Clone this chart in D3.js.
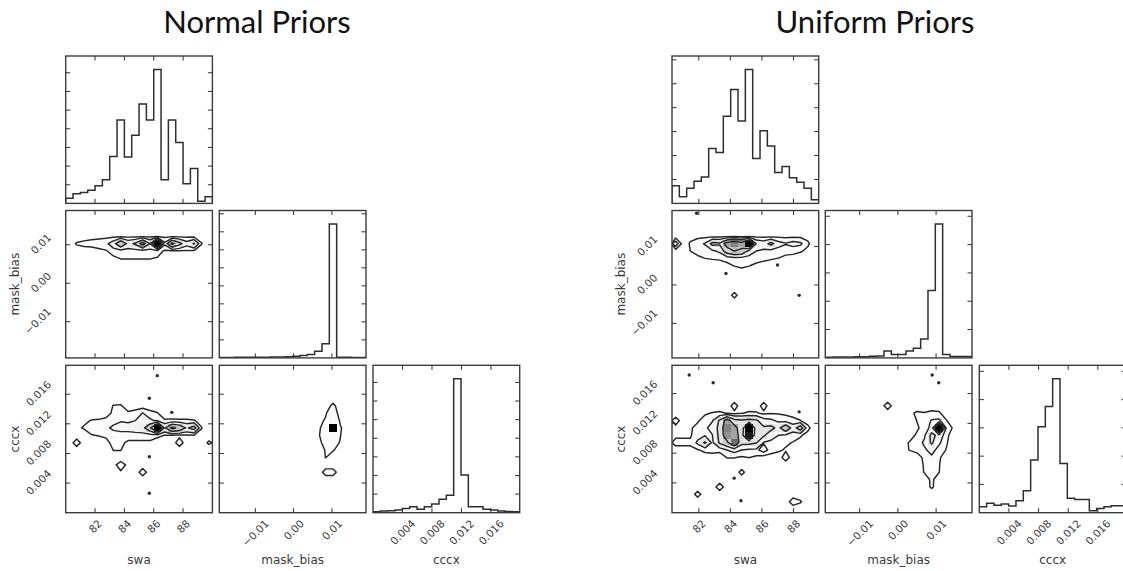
<!DOCTYPE html>
<html>
<head>
<meta charset="utf-8">
<script src="https://cdn.jsdelivr.net/npm/d3@7"></script>
<style>
  html, body { margin: 0; padding: 0; background: #fff; }
  svg { display: block; }
</style>
</head>
<body>
<svg id="chart" width="1123" height="571"></svg>
<script>
// ---------------- data ----------------
const paramNames = ["swa", "mask_bias", "cccx"];
const titles = ["Normal Priors", "Uniform Priors"];

// axis extents [min, max] per parameter
const extentNormal = [[80, 90], [-0.0194, 0.0189], [0, 0.0199]];
const extentUniform = [[80.3, 89.6], [-0.019, 0.0194], [0, 0.0198]];

const swaTicks = [82, 84, 86, 88];
const swaTickLabels = ["82", "84", "86", "88"];
const maskTicks = [-0.01, 0, 0.01];
const maskTickLabels = ["\u22120.01", "0.00", "0.01"];
const cccxTicks = [0.004, 0.008, 0.012, 0.016];
const cccxTickLabels = ["0.004", "0.008", "0.012", "0.016"];

// 1-D marginal histograms (20 bins across each extent)
const histSwaNormal = [27, 52, 59, 70, 94, 127, 251, 447, 248, 365, 533, 447, 718, 127, 447, 326, 105, 187, 12, 36];
const histMaskNormal = [2, 2, 3, 3, 3, 4, 4, 5, 5, 6, 9, 13, 19, 37, 78, 744, 4, 3, 2, 2];
const histCccxNormal = [5, 9, 11, 14, 22, 32, 18, 32, 47, 72, 94, 720, 202, 32, 32, 18, 14, 9, 7, 5];
const histSwaUniform = [74, 28, 63, 93, 110, 229, 213, 364, 476, 344, 560, 188, 304, 240, 129, 154, 107, 88, 63, 15];
const histMaskUniform = [2, 3, 3, 3, 4, 4, 6, 7, 24, 12, 12, 24, 34, 67, 238, 473, 12, 5, 5, 5];
const histCccxUniform = [21, 33, 26, 31, 24, 42, 78, 186, 304, 376, 474, 174, 51, 47, 47, 7, 15, 21, 25, 25];
const histTickStep = 100;

// 2-D densities on a 20x20 grid: [row counted from the bottom, first column, values...]
const densNormalSwaMask = [
  [16, 3, [0.3, 0.4, 0.5, 0.5, 0.5, 0.5, 0.5, 0.5, 0.5, 0.5, 0.5, 0.5, 0.5, 0.5, 0.4, 0.3]],
  [15, 1, [1.2, 1.6, 1.8, 2, 2.4, 4.5, 9.5, 5, 6.5, 12, 5.8, 20, 3.5, 11, 7, 4, 6.3, 1.1]],
  [14, 4, [0.5, 0.8, 2, 2, 2, 2, 2, 2, 2, 0.7, 0.7, 0.7, 0.7, 0.7, 0.3]],
  [13, 6, [0.5, 1.1, 1.1, 1.1, 1.1, 1.1, 0.8]]
];
const densNormalSwaCccx = [
  [14, 6, [1.1, 1.2]],
  [13, 6, [1.5, 1.6, 1.3, 1.8, 3.1, 1.6, 1.1]],
  [12, 2, [0.6, 1.1, 1.2, 1.6, 2.2, 2.8, 2.6, 3, 3.5, 3.5, 2.5, 1.2, 1.3, 1.2, 1.2, 1.1, 0.5]],
  [11, 1, [0.6, 1.2, 1.8, 2, 2.5, 3.5, 4, 4, 4.5, 5, 9, 20, 5.5, 11, 9, 5.5, 7.5, 1.1]],
  [10, 3, [0.9, 1.1, 1.3, 2, 2, 2, 2, 2, 2, 1.5, 0.9, 0.8, 0.5, 0.8, 0.9, 0.3]],
  [9, 1, [2, 0, 0, 0, 0.5, 1.5, 1.5, 0.6, 0.6, 0.6, 0.6, 0, 0, 0, 2, 0, 0, 0, 1.3]],
  [8, 6, [1.05, 1.05]],
  [6, 6, [0.5, 1.8, 0.6]],
  [5, 7, [0.8, 0, 0, 2]]
];
const densNormalMaskCccx = [
  [14, 15, [1.5]],
  [13, 14, [0.8, 2.5]],
  [12, 13, [0.5, 1.2, 3, 0.7]],
  [11, 13, [0.8, 1.5, 20, 1.2]],
  [10, 13, [0.9, 1.5, 2, 1.05]],
  [9, 13, [0.7, 1.4, 1.6, 0.9]],
  [8, 13, [0.3, 1.1, 1.2]],
  [7, 14, [1.05]],
  [5, 14, [1.8, 1.8]]
];
const densUniformSwaMask = [
  [16, 2, [0.5, 0.5, 0.5, 0.5, 0.5, 0.5, 0.5, 0.5, 0.8, 0.5, 0.5, 0.5, 0.5, 0.5, 0.5, 0.5, 0.5]],
  [15, 0, [4.5, 0, 1.2, 2.2, 3.2, 7, 6.5, 12, 14, 12, 20, 5.5, 4.5, 7, 4, 3.2, 4, 3.5, 1.3, 0]],
  [14, 2, [1, 1.3, 2, 2.5, 3.5, 8, 10, 9, 5, 3, 2.5, 2.2, 2, 1.5, 1.5, 1.2, 0.6]],
  [13, 2, [0.5, 0.8, 1, 1.15, 1.3, 1.5, 2, 2, 1.8, 1.5, 1.3, 1.2, 0.95, 0.6, 0.4]],
  [12, 7, [0.6, 1.05, 1.3, 1.05, 0.7, 0.5]],
  [11, 9, [0.3]],
  [8, 8, [1.6]]
];
const densUniformSwaCccx = [
  [14, 8, [1.8, 0, 0, 0, 1.8]],
  [13, 3, [0.5, 0.8, 1.1, 1.3, 0.95, 0.6, 0.9, 1.3, 1.2, 0.6, 0.9, 0.8, 0.6, 0.4]],
  [12, 0, [1.8, 0.2, 0.3, 0.8, 1.6, 2.8, 6.5, 12, 7, 6.5, 7, 6.5, 4, 3.5, 2.5, 2, 1.5, 1.05, 0.3]],
  [11, 0, [0.5, 0.6, 0.8, 1.5, 2.5, 4, 7, 14, 12, 7, 20, 7, 6.5, 7, 5, 9, 4.5, 8, 1.5]],
  [10, 0, [0.8, 0.8, 0.8, 2, 2.8, 2.9, 7, 13, 12, 8, 19, 6.5, 6.5, 4, 3, 2.5, 1.8, 1.2, 0.4]],
  [9, 0, [1.3, 1.3, 1.3, 3.5, 6.5, 2.5, 6.5, 9, 15, 7, 7, 6.2, 2.8, 2.5, 1.8, 1.3, 0.9, 0.5]],
  [8, 0, [0.6, 0.6, 0.6, 0.8, 1.5, 1.8, 1.5, 3, 4, 3, 2.5, 2.4, 4.2, 2, 1.3, 0.8, 0.6]],
  [7, 7, [1.1, 1.1, 0.7, 1.05, 0.6, 0, 0, 0, 2]],
  [5, 9, [1.6]],
  [3, 6, [2]],
  [2, 3, [1.7]],
  [1, 16, [2, 1.2]]
];
const densUniformMaskCccx = [
  [14, 8, [2]],
  [13, 11, [0.6, 1.3, 1.1, 1.5, 1.3]],
  [12, 12, [1.05, 1.8, 3.2, 3.5, 1.1]],
  [11, 12, [0.8, 1.5, 4, 20, 2.5, 0.6]],
  [10, 11, [0.5, 1.2, 2.5, 7, 5, 1.5]],
  [9, 10, [0.6, 1.1, 1.6, 3.5, 6.5, 3.5, 1.2]],
  [8, 10, [0.6, 1.05, 1.6, 2.5, 4, 2, 0.9]],
  [7, 13, [1.5, 2.5, 1.3]],
  [6, 13, [1.2, 1.8, 1.1]],
  [5, 13, [1.1, 1.6, 1.05]],
  [4, 14, [1.4]],
  [3, 14, [1.3]]
];

// contour levels of each density
const levelsStd = [1, 3, 6, 10];
const levelsNormalMaskCccx = [1];

// isolated samples outside the contours: [x, y]
const outliersNormalSwaCccx = [[86.24, 0.0185], [85.70, 0.01545], [87.23, 0.01355], [85.70, 0.00756], [85.70, 0.00262]];
const outliersUniformSwaMask = [[83.72, 0.0030], [86.99, 0.0052], [88.36, -0.0027], [81.86, 0.0187]];
const outliersUniformSwaCccx = [[81.39, 0.01849], [82.91, 0.01746], [88.36, 0.01355], [84.24, 0.00464], [84.67, 0.00162]];
const outliersUniformMaskCccx = [[0.00898, 0.01849], [0.0107, 0.01746]];

// ---------------- layout ----------------
const NB = 20;
const W = 146.7, H = 147.4;
const TICK_LEN = 4.5;
const LINE = "#2e2e2e";
const TXT = "#3a3a3a";
const TICK_FS = 10.5;
const paramTicks = [swaTicks, maskTicks, cccxTicks];
const paramTickLabels = [swaTickLabels, maskTickLabels, cccxTickLabels];

const plots = [
  {
    title: titles[0], titleX: 257,
    left: [65.7, 219.3, 373], top: [56, 210.5, 365.3],
    extents: extentNormal,
    hists: [histSwaNormal, histMaskNormal, histCccxNormal],
    dens: {
      "1,0": [densNormalSwaMask, levelsStd, []],
      "2,0": [densNormalSwaCccx, levelsStd, outliersNormalSwaCccx],
      "2,1": [densNormalMaskCccx, levelsNormalMaskCccx, []]
    }
  },
  {
    title: titles[1], titleX: 875,
    left: [672, 825.3, 979.3], top: [56, 210.5, 365.3],
    extents: extentUniform,
    hists: [histSwaUniform, histMaskUniform, histCccxUniform],
    dens: {
      "1,0": [densUniformSwaMask, levelsStd, outliersUniformSwaMask],
      "2,0": [densUniformSwaCccx, levelsStd, outliersUniformSwaCccx],
      "2,1": [densUniformMaskCccx, levelsStd, outliersUniformMaskCccx]
    }
  }
];

const svg = d3.select("#chart");
const defs = svg.append("defs");
let clipId = 0;

function buildGrid(rows) {
  const vals = new Array(NB * NB).fill(0);
  rows.forEach(([j, c0, v]) => v.forEach((x, k) => { vals[(NB - 1 - j) * NB + c0 + k] = x; }));
  return vals;
}

function panelClip(x0, y0) {
  const id = "clip" + (clipId++);
  defs.append("clipPath").attr("id", id)
    .append("rect").attr("x", x0).attr("y", y0).attr("width", W).attr("height", H);
  return "url(#" + id + ")";
}

function drawTicks(g, x0, y0, xTicks, xs, yTicks, ys) {
  const t = g.append("g").attr("stroke", LINE).attr("stroke-width", 1);
  xTicks.forEach(v => {
    const x = xs(v);
    t.append("line").attr("x1", x).attr("x2", x).attr("y1", y0).attr("y2", y0 + TICK_LEN);
    t.append("line").attr("x1", x).attr("x2", x).attr("y1", y0 + H).attr("y2", y0 + H - TICK_LEN);
  });
  yTicks.forEach(v => {
    const y = ys(v);
    t.append("line").attr("x1", x0).attr("x2", x0 + TICK_LEN).attr("y1", y).attr("y2", y);
    t.append("line").attr("x1", x0 + W).attr("x2", x0 + W - TICK_LEN).attr("y1", y).attr("y2", y);
  });
  g.append("rect").attr("x", x0).attr("y", y0).attr("width", W).attr("height", H)
    .attr("fill", "none").attr("stroke", "#3c3c3c").attr("stroke-width", 1.4);
}

function drawHist(g, x0, y0, ext, counts, xTicks) {
  const xs = d3.scaleLinear(ext, [x0, x0 + W]);
  const top = 1.1 * d3.max(counts);
  const ys = d3.scaleLinear([0, top], [y0 + H, y0]);
  const edges = d3.range(NB + 1).map(i => ext[0] + i * (ext[1] - ext[0]) / NB);
  const pts = [[edges[0], 0]];
  counts.forEach((c, i) => { pts.push([edges[i], c], [edges[i + 1], c]); });
  pts.push([edges[NB], 0]);
  g.append("path")
    .attr("clip-path", panelClip(x0, y0))
    .attr("d", d3.line().x(d => xs(d[0])).y(d => ys(d[1]))(pts))
    .attr("fill", "none").attr("stroke", LINE).attr("stroke-width", 1.5);
  drawTicks(g, x0, y0, xTicks, xs, d3.range(histTickStep, top, histTickStep), ys);
}

function drawDensity(g, x0, y0, xd, yd, rows, levels, outliers, xTicks, yTicks) {
  const xs = d3.scaleLinear(xd, [x0, x0 + W]);
  const ys = d3.scaleLinear(yd, [y0 + H, y0]);
  const vals = buildGrid(rows);
  const vmax = d3.max(vals);
  const dx = (xd[1] - xd[0]) / NB, dy = (yd[1] - yd[0]) / NB;
  const inner = g.append("g").attr("clip-path", panelClip(x0, y0));

  // shaded cells, darker where the density is higher
  const cells = [];
  vals.forEach((v, k) => { if (v > 0) cells.push({ i: k % NB, r: Math.floor(k / NB), v }); });
  inner.selectAll("rect.cell").data(cells).join("rect")
    .attr("class", "cell")
    .attr("x", d => xs(xd[0] + d.i * dx))
    .attr("y", d => ys(yd[1] - d.r * dy))
    .attr("width", d => xs(xd[0] + (d.i + 1) * dx) - xs(xd[0] + d.i * dx))
    .attr("height", d => ys(yd[1] - (d.r + 1) * dy) - ys(yd[1] - d.r * dy))
    .attr("shape-rendering", "crispEdges")
    .attr("fill", d => {
      const s = Math.round(255 * (1 - Math.pow(d.v / vmax, 2)));
      return d3.rgb(s, s, s).toString();
    });

  // contour lines
  const proj = d3.geoTransform({
    point(px, py) { this.stream.point(xs(xd[0] + px * dx), ys(yd[1] - py * dy)); }
  });
  const path = d3.geoPath(proj);
  const cs = d3.contours().size([NB, NB]).thresholds(levels)(vals);
  inner.selectAll("path.contour").data(cs).join("path")
    .attr("class", "contour")
    .attr("d", path)
    .attr("fill", "none").attr("stroke", "#262626").attr("stroke-width", 1.45)
    .attr("stroke-linejoin", "round");

  // isolated samples
  inner.selectAll("circle.pt").data(outliers).join("circle")
    .attr("class", "pt")
    .attr("cx", d => xs(d[0])).attr("cy", d => ys(d[1])).attr("r", 1.7)
    .attr("fill", "#2a2a2a");

  drawTicks(g, x0, y0, xTicks, xs, yTicks, ys);
}

function rotatedXLabel(g, text, x, yTop) {
  const t = g.append("text").text(text)
    .attr("font-family", "DejaVu Sans").attr("font-size", TICK_FS)
    .attr("fill", TXT).attr("text-anchor", "middle").attr("dominant-baseline", "central");
  const w = t.node().getComputedTextLength();
  const half = (w + TICK_FS * 0.72) * Math.SQRT1_2 / 2;
  t.attr("transform", `translate(${x},${yTop + half}) rotate(-45)`);
}

function rotatedYLabel(g, text, xRight, y) {
  const t = g.append("text").text(text)
    .attr("font-family", "DejaVu Sans").attr("font-size", TICK_FS)
    .attr("fill", TXT).attr("text-anchor", "middle").attr("dominant-baseline", "central");
  const w = t.node().getComputedTextLength();
  const half = (w + TICK_FS * 0.72) * Math.SQRT1_2 / 2;
  t.attr("transform", `translate(${xRight - half},${y}) rotate(-45)`);
}

plots.forEach(p => {
  const g = svg.append("g");

  g.append("text").text(p.title)
    .attr("x", p.titleX).attr("y", 33)
    .attr("text-anchor", "middle")
    .attr("font-family", "Lato").attr("font-size", 31)
    .attr("fill", "#111");

  for (let r = 0; r < 3; r++) {
    for (let c = 0; c <= r; c++) {
      const x0 = p.left[c], y0 = p.top[r];
      if (r === c) {
        drawHist(g, x0, y0, p.extents[c], p.hists[c], paramTicks[c]);
      } else {
        const [rows, levels, outliers] = p.dens[r + "," + c];
        drawDensity(g, x0, y0, p.extents[c], p.extents[r], rows, levels, outliers,
          paramTicks[c], paramTicks[r]);
      }
    }
  }

  // tick labels along the bottom row
  for (let c = 0; c < 3; c++) {
    const xs = d3.scaleLinear(p.extents[c], [p.left[c], p.left[c] + W]);
    const bottom = p.top[2] + H;
    paramTicks[c].forEach((v, i) => rotatedXLabel(g, paramTickLabels[c][i], xs(v), bottom + 6));
    g.append("text").text(paramNames[c])
      .attr("x", p.left[c] + W / 2).attr("y", 564)
      .attr("text-anchor", "middle")
      .attr("font-family", "DejaVu Sans").attr("font-size", 12)
      .attr("fill", TXT);
  }

  // tick labels along the left column
  for (let r = 1; r < 3; r++) {
    const ys = d3.scaleLinear(p.extents[r], [p.top[r] + H, p.top[r]]);
    paramTicks[r].forEach((v, i) => rotatedYLabel(g, paramTickLabels[r][i], p.left[0] - 14, ys(v) - 1));
    const cy = p.top[r] + H / 2;
    g.append("text").text(paramNames[r])
      .attr("transform", `translate(${p.left[0] - 51},${cy}) rotate(-90)`)
      .attr("text-anchor", "middle").attr("dominant-baseline", "central")
      .attr("font-family", "DejaVu Sans").attr("font-size", 12)
      .attr("fill", TXT);
  }
});
</script>
</body>
</html>
